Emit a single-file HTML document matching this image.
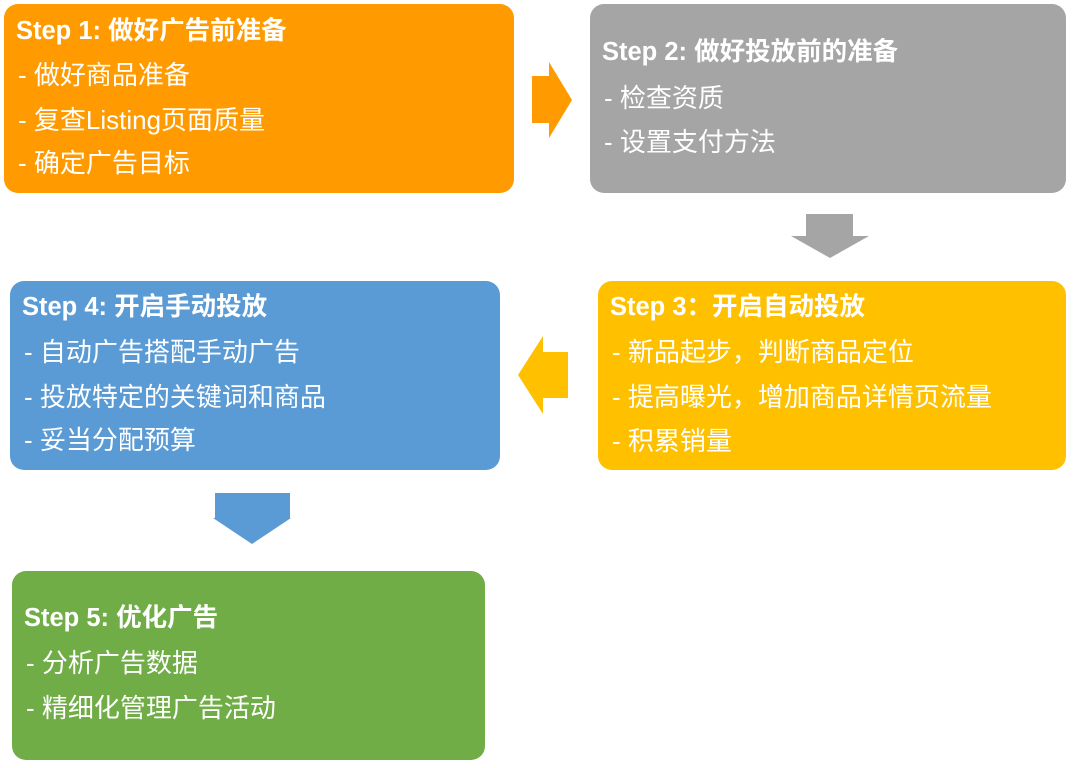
<!DOCTYPE html>
<html><head><meta charset="utf-8"><style>
body{margin:0;width:1080px;height:768px;background:#fff;position:relative;overflow:hidden;font-family:"Liberation Sans","Noto Sans CJK SC",sans-serif;color:#fff}
.b{position:absolute;border-radius:14px}
.t{position:absolute;font-size:26px;white-space:nowrap;line-height:1}
.h{font-weight:bold;font-size:25.5px}
svg{position:absolute;left:0;top:0}
</style></head><body>
<div class="b" style="left:4px;top:4px;width:510px;height:189px;background:#FF9B00"></div>
<div class="b" style="left:590px;top:4px;width:476px;height:189px;background:#A5A5A5"></div>
<div class="b" style="left:598px;top:281px;width:468px;height:189px;background:#FFC000"></div>
<div class="b" style="left:10px;top:281px;width:490px;height:189px;background:#5B9BD5"></div>
<div class="b" style="left:12px;top:571px;width:473px;height:189px;background:#70AD47"></div>
<svg width="1080" height="768">
<polygon points="532,76 549,76 549,62 572,100 549,138 549,123 532,123" fill="#FF9B00"/>
<polygon points="806,214 853,214 853,236 869,236 830,258 791,236 806,236" fill="#A5A5A5"/>
<polygon points="568,352 543,352 543,336 518,375 543,414 543,398 568,398" fill="#FFC000"/>
<polygon points="215,493 290,493 290,518 291,518 252,544 213,518 215,518" fill="#5B9BD5"/>
</svg>
<div class="t h" style="left:16px;top:19px">Step 1: 做好广告前准备</div>
<div class="t" style="left:18px;top:62px">- 做好商品准备</div>
<div class="t" style="left:18px;top:107px">- 复查Listing页面质量</div>
<div class="t" style="left:18px;top:150px">- 确定广告目标</div>
<div class="t h" style="left:602px;top:40px">Step 2: 做好投放前的准备</div>
<div class="t" style="left:604px;top:85px">- 检查资质</div>
<div class="t" style="left:604px;top:129px">- 设置支付方法</div>
<div class="t h" style="left:610px;top:295px">Step 3：开启自动投放</div>
<div class="t" style="left:612px;top:339px">- 新品起步，判断商品定位</div>
<div class="t" style="left:612px;top:384px">- 提高曝光，增加商品详情页流量</div>
<div class="t" style="left:612px;top:428px">- 积累销量</div>
<div class="t h" style="left:22px;top:295px">Step 4: 开启手动投放</div>
<div class="t" style="left:24px;top:339px">- 自动广告搭配手动广告</div>
<div class="t" style="left:24px;top:384px">- 投放特定的关键词和商品</div>
<div class="t" style="left:24px;top:427px">- 妥当分配预算</div>
<div class="t h" style="left:24px;top:606px">Step 5: 优化广告</div>
<div class="t" style="left:26px;top:650px">- 分析广告数据</div>
<div class="t" style="left:26px;top:695px">- 精细化管理广告活动</div>
</body></html>
